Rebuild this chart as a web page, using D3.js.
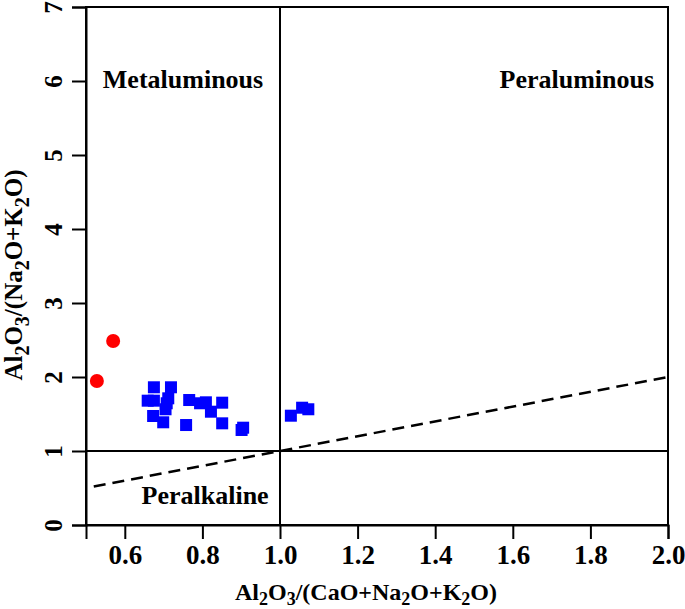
<!DOCTYPE html>
<html><head><meta charset="utf-8">
<script src="https://cdn.jsdelivr.net/npm/d3@7"></script>
<style>body{margin:0;background:#fff}svg{display:block}text{font-family:"Liberation Serif","Times New Roman",Times,serif;font-weight:bold;}</style>
</head><body>
<svg id="c" width="685" height="609"></svg>
<script>
const xTicks = [0.6, 0.8, 1.0, 1.2, 1.4, 1.6, 1.8, 2.0];
const yTicks = [0, 1, 2, 3, 4, 5, 6, 7];
const redX = [0.528, 0.570];
const redY = [1.946, 2.486];
const blueX = [0.675, 0.719, 0.659, 0.675, 0.712, 0.708, 0.705, 0.673, 0.699, 0.766, 0.794, 0.809, 0.822, 0.851, 0.851, 0.758, 0.901, 0.905, 1.028, 1.057, 1.073];
const blueY = [1.861, 1.861, 1.680, 1.680, 1.712, 1.645, 1.564, 1.473, 1.388, 1.689, 1.645, 1.658, 1.531, 1.653, 1.374, 1.351, 1.284, 1.315, 1.477, 1.585, 1.564];
const dashX = [0.52, 2.0];
const regions = [
  {name: "Metaluminous", x: 0.75, y: 5.905},
  {name: "Peraluminous", x: 1.765, y: 5.905},
  {name: "Peralkaline", x: 0.807, y: 0.284}
];

const svg = d3.select("#c");
const x = d3.scaleLinear().domain([0.5, 2.0]).range([86, 668]);
const y = d3.scaleLinear().domain([0, 7]).range([525, 7]);

// box
svg.append("rect").attr("x", x(0.5)).attr("y", y(7)).attr("width", x(2.0) - x(0.5)).attr("height", y(0) - y(7))
  .attr("fill", "none").attr("stroke", "#000").attr("stroke-width", 2);

// axes
const xa = svg.append("g").attr("transform", `translate(0,${y(0)})`)
  .call(d3.axisBottom(x).tickValues(xTicks).tickFormat(d3.format(".1f")).tickSize(14).tickPadding(6));
const ya = svg.append("g").attr("transform", `translate(${x(0.5)},0)`)
  .call(d3.axisLeft(y).tickValues(yTicks).tickFormat(d3.format("d")).tickSize(14).tickPadding(6));
[xa, ya].forEach(g => {
  g.attr("font-family", null).attr("font-size", null);
  g.select(".domain").attr("stroke-width", 2);
  g.selectAll(".tick line").attr("stroke-width", 2);
  g.selectAll("text").attr("fill", "#000");
});
xa.selectAll(".tick text").attr("font-size", 27);
ya.selectAll(".tick text").attr("font-size", 25).attr("text-anchor", "middle").attr("dy", null).attr("x", null)
  .attr("transform", "translate(-24,0) rotate(-90)");

// division lines
svg.append("line").attr("x1", x(1.0)).attr("x2", x(1.0)).attr("y1", y(0)).attr("y2", y(7)).attr("stroke", "#000").attr("stroke-width", 2);
svg.append("line").attr("x1", x(0.5)).attr("x2", x(2.0)).attr("y1", y(1)).attr("y2", y(1)).attr("stroke", "#000").attr("stroke-width", 2);
svg.append("line").attr("x1", x(dashX[0])).attr("x2", x(dashX[1])).attr("y1", y(dashX[0])).attr("y2", y(dashX[1]))
  .attr("stroke", "#000").attr("stroke-width", 2.5).attr("stroke-dasharray", "12,7");

// region labels
svg.selectAll(".reg").data(regions).enter().append("text").attr("class", "reg")
  .attr("x", d => x(d.x)).attr("y", d => y(d.y)).attr("text-anchor", "middle").attr("font-size", 26).text(d => d.name);

// points
svg.selectAll(".bl").data(blueX).enter().append("rect").attr("class", "bl")
  .attr("x", (d, i) => x(d) - 6).attr("y", (d, i) => y(blueY[i]) - 6).attr("width", 12).attr("height", 12).attr("fill", "#0000ff");
svg.selectAll(".rd").data(redX).enter().append("circle").attr("class", "rd")
  .attr("cx", d => x(d)).attr("cy", (d, i) => y(redY[i])).attr("r", 7).attr("fill", "#ff0000");

// axis titles
function chem(t, parts, sz, off) {
  parts.forEach(p => {
    if (p.sub) t.append("tspan").text(p.s).attr("font-size", sz).attr("dy", off);
    else t.append("tspan").text(p.s).attr("dy", p.after ? -off : 0);
  });
}
const xParts = [{s:"Al"},{s:"2",sub:1},{s:"O",after:1},{s:"3",sub:1},{s:"/(CaO+Na",after:1},{s:"2",sub:1},{s:"O+K",after:1},{s:"2",sub:1},{s:"O)",after:1}];
const yParts = [{s:"Al"},{s:"2",sub:1},{s:"O",after:1},{s:"3",sub:1},{s:"/(Na",after:1},{s:"2",sub:1},{s:"O+K",after:1},{s:"2",sub:1},{s:"O)",after:1}];
const xt = svg.append("text").attr("x", 366).attr("y", 600).attr("text-anchor", "middle").attr("font-size", 24);
chem(xt, xParts, 18, 5);
const yt = svg.append("text").attr("transform", `translate(22,275) rotate(-90)`).attr("text-anchor", "middle").attr("font-size", 25);
chem(yt, yParts, 20, 7);
</script>
</body></html>
